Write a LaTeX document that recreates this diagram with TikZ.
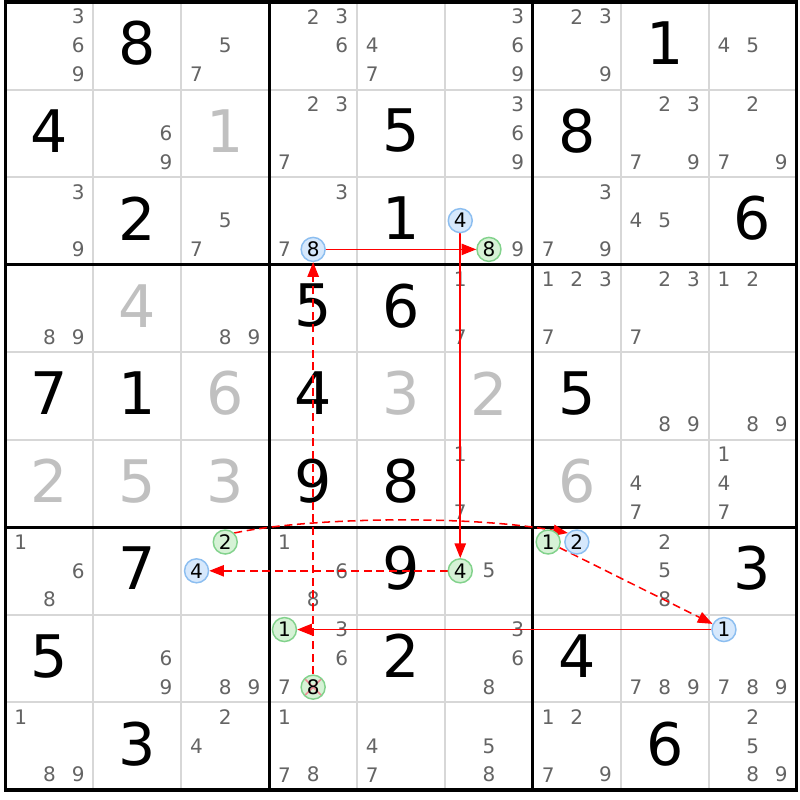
\documentclass[tikz,border=0pt]{standalone}
\usepackage{fontspec}
\setmainfont{DejaVu Sans}
\usetikzlibrary{arrows.meta}
\pgfdeclarelayer{front}
\pgfsetlayers{main,front}
\definecolor{candgray}{RGB}{100,100,100}
\definecolor{lightdigit}{RGB}{192,192,192}
\definecolor{gridgray}{RGB}{215,215,215}
\definecolor{chainred}{RGB}{255,0,0}
\definecolor{bluefill}{RGB}{214,232,252}
\definecolor{blueline}{RGB}{140,190,240}
\definecolor{greenfill}{RGB}{214,242,214}
\definecolor{greenline}{RGB}{130,210,140}
\definecolor{xpink}{RGB}{240,140,150}
\newcommand\sdkCand[4]{%
  \pgfmathsetmacro\sdkcx{5.5+(#2-0.5)*87.9+(mod(#3-1,3)-1)*28.7}%
  \pgfmathsetmacro\sdkcy{2+(#1-1)*87.55+43.5+(floor((#3-1)/3)-1)*28.8}%
  \node[#4] (c#1#2#3) at (\sdkcx,\sdkcy) {#3};}
\newcommand\sdkCands[3]{\foreach \sdkk in {#3} {\sdkCand{#1}{#2}{\sdkk}{cand}}}
\newcommand\sdkGiven[4]{%
  \pgfmathsetmacro\sdkcx{5.5+(#2-0.5)*87.9}%
  \pgfmathsetmacro\sdkcy{2+(#1-0.5)*87.55-2.5}%
  \node[given,text=#4] (g#1#2) at (\sdkcx,\sdkcy) {#3};}
\begin{document}
\begin{tikzpicture}[x=0.75pt,y=-0.75pt,
  cand/.style={inner sep=0pt,font=\fontsize{15}{15}\selectfont,text=candgray},
  given/.style={inner sep=0pt,font=\fontsize{44}{44}\selectfont},
  bluec/.style={circle,draw=blueline,fill=bluefill,line width=1.1pt,minimum size=18pt,inner sep=0pt,font=\fontsize{15}{15}\selectfont,text=black},
  greenc/.style={bluec,draw=greenline,fill=greenfill},
  crossed/.style={path picture={\draw[xpink,line width=1.2pt]
     (path picture bounding box.north west) -- (path picture bounding box.south east)
     (path picture bounding box.north east) -- (path picture bounding box.south west);}},
  gridline/.style={draw=gridgray,line width=1.5pt},
  boxline/.style={draw=black,line width=2.3pt},
  chain/.style={draw=chainred,line width=1.15pt,-{Triangle[length=11pt,width=8.5pt]}},
  chaindash/.style={chain,dash pattern=on 6pt off 3.5pt}]
\useasboundingbox (0,0) rectangle (800,800);
\fill[white] (0,0) rectangle (800,800);
% thin grid lines
\foreach \i in {1,2,4,5,7,8} {
  \draw[gridline] ({5.5+\i*87.9},2) -- ({5.5+\i*87.9},790);
  \draw[gridline] (5.5,{2+\i*87.55}) -- (796.6,{2+\i*87.55});
}
% givens
\sdkGiven{1}{2}{8}{black}\sdkGiven{1}{8}{1}{black}
\sdkGiven{2}{1}{4}{black}\sdkGiven{2}{3}{1}{lightdigit}\sdkGiven{2}{5}{5}{black}\sdkGiven{2}{7}{8}{black}
\sdkGiven{3}{2}{2}{black}\sdkGiven{3}{5}{1}{black}\sdkGiven{3}{9}{6}{black}
\sdkGiven{4}{2}{4}{lightdigit}\sdkGiven{4}{4}{5}{black}\sdkGiven{4}{5}{6}{black}
\sdkGiven{5}{1}{7}{black}\sdkGiven{5}{2}{1}{black}\sdkGiven{5}{3}{6}{lightdigit}\sdkGiven{5}{4}{4}{black}
\sdkGiven{5}{5}{3}{lightdigit}\sdkGiven{5}{6}{2}{lightdigit}\sdkGiven{5}{7}{5}{black}
\sdkGiven{6}{1}{2}{lightdigit}\sdkGiven{6}{2}{5}{lightdigit}\sdkGiven{6}{3}{3}{lightdigit}
\sdkGiven{6}{4}{9}{black}\sdkGiven{6}{5}{8}{black}\sdkGiven{6}{7}{6}{lightdigit}
\sdkGiven{7}{2}{7}{black}\sdkGiven{7}{5}{9}{black}\sdkGiven{7}{9}{3}{black}
\sdkGiven{8}{1}{5}{black}\sdkGiven{8}{5}{2}{black}\sdkGiven{8}{7}{4}{black}
\sdkGiven{9}{2}{3}{black}\sdkGiven{9}{8}{6}{black}
% candidates
\sdkCands{1}{1}{3,6,9}\sdkCands{1}{3}{5,7}\sdkCands{1}{4}{2,3,6}\sdkCands{1}{5}{4,7}
\sdkCands{1}{6}{3,6,9}\sdkCands{1}{7}{2,3,9}\sdkCands{1}{9}{4,5}
\sdkCands{2}{2}{6,9}\sdkCands{2}{4}{2,3,7}\sdkCands{2}{6}{3,6,9}\sdkCands{2}{8}{2,3,7,9}\sdkCands{2}{9}{2,7,9}
\sdkCands{3}{1}{3,9}\sdkCands{3}{3}{5,7}\sdkCands{3}{4}{3,7}\sdkCands{3}{6}{9}\sdkCands{3}{7}{3,7,9}\sdkCands{3}{8}{4,5}
\sdkCands{4}{1}{8,9}\sdkCands{4}{3}{8,9}\sdkCands{4}{6}{1,7}\sdkCands{4}{7}{1,2,3,7}\sdkCands{4}{8}{2,3,7}\sdkCands{4}{9}{1,2}
\sdkCands{5}{8}{8,9}\sdkCands{5}{9}{8,9}
\sdkCands{6}{6}{1,7}\sdkCands{6}{8}{4,7}\sdkCands{6}{9}{1,4,7}
\sdkCands{7}{1}{1,6,8}\sdkCands{7}{4}{1,6,8}\sdkCands{7}{6}{5}\sdkCands{7}{8}{2,5,8}
\sdkCands{8}{2}{6,9}\sdkCands{8}{3}{8,9}\sdkCands{8}{4}{3,6,7}\sdkCands{8}{6}{3,6,8}\sdkCands{8}{8}{7,8,9}\sdkCands{8}{9}{7,8,9}
\sdkCands{9}{1}{1,8,9}\sdkCands{9}{3}{2,4}\sdkCands{9}{4}{1,7,8}\sdkCands{9}{5}{4,7}\sdkCands{9}{6}{5,8}
\sdkCands{9}{7}{1,2,7,9}\sdkCands{9}{9}{2,5,8,9}
% highlighted candidates
\begin{pgfonlayer}{front}
\sdkCand{3}{4}{8}{bluec}
\sdkCand{3}{6}{4}{bluec}
\sdkCand{3}{6}{8}{greenc}
\sdkCand{7}{3}{2}{greenc}
\sdkCand{7}{3}{4}{bluec}
\sdkCand{7}{6}{4}{greenc}
\sdkCand{7}{7}{1}{greenc}
\sdkCand{7}{7}{2}{bluec}
\sdkCand{8}{4}{1}{greenc}
\sdkCand{8}{4}{8}{greenc,crossed}
\sdkCand{8}{9}{1}{bluec}
\end{pgfonlayer}
% box lines
\foreach \i in {3,6} {
  \draw[boxline] ({5.5+\i*87.9},2) -- ({5.5+\i*87.9},790);
  \draw[boxline] (5.5,{2+\i*87.55}) -- (796.6,{2+\i*87.55});
}
\draw[boxline] (5.5,2) rectangle (796.6,790);
% chain
\draw[chain] (c348) -- (c368);
\draw[chain] (c364) -- (c764);
\draw[chaindash] (c764) -- (c734);
\draw[chaindash] (c732.north east) .. controls (310,517) and (470,515) .. (c772.north west);
\draw[chaindash] (c771) -- (c891);
\draw[chain] (c891) -- (c841);
\draw[chaindash] (c848) -- (c348);
\end{tikzpicture}
\end{document}
